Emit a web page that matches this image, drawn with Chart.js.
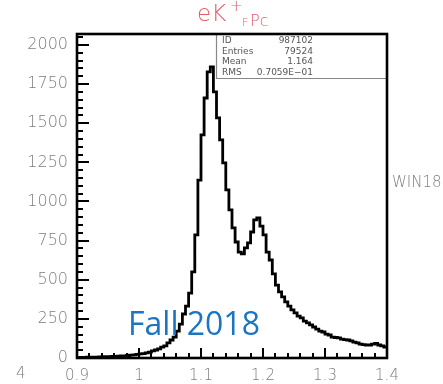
<!DOCTYPE html>
<html>
<head>
<meta charset="utf-8">
<script src="https://cdn.jsdelivr.net/npm/chart.js@4/dist/chart.umd.min.js"></script>
<style>
  html, body { margin:0; padding:0; background:#fff; }
  #wrap { position:relative; width:443px; height:384px; overflow:hidden; }
  canvas { position:absolute; left:0; top:0; }
  .t { position:absolute; line-height:1; white-space:nowrap; font-family:"DejaVu Sans", sans-serif; }
  .title { color:#e25b6b; font-weight:200; }
  .stat { position:absolute; font-size:9px; line-height:10.5px; color:#555; font-family:"DejaVu Sans", sans-serif; }
  .gray { color:#7d7d7d; font-weight:200; }
</style>
</head>
<body>
<div id="wrap">
  <canvas id="c" width="443" height="384"></canvas>
  <span class="t title" style="left:197px;top:2px;font-size:23px;">eK</span>
  <span class="t title" style="left:230px;top:-1px;font-size:15px;">+</span>
  <span class="t title" style="left:242px;top:17px;font-size:11px;">F</span>
  <span class="t title" style="left:250px;top:13px;font-size:16px;">Pc</span>
  <div class="stat" style="left:222px;top:35px;">ID<br>Entries<br>Mean<br>RMS</div>
  <div class="stat" style="left:253px;top:35px;width:60px;text-align:right;">987102<br>79524<br>1.164<br>0.7059E&minus;01</div>
  <span class="t gray" style="left:392px;top:175px;font-size:15px;">WIN18</span>
  <span class="t gray" style="left:16px;top:366px;font-size:15px;">4</span>
  <span class="t" style="left:128px;top:307px;font-size:32px;color:#1b75c2;font-family:'Open Sans',sans-serif;">Fall 2018</span>
</div>
<script>
// ---- data ----
const binEdges = [
  0.900,0.905,0.910,0.915,0.920,0.925,0.930,0.935,0.940,0.945,
  0.950,0.955,0.960,0.965,0.970,0.975,0.980,0.985,0.990,0.995,
  1.000,1.005,1.010,1.015,1.020,1.025,1.030,1.035,1.040,1.045,
  1.050,1.055,1.060,1.065,1.070,1.075,1.080,1.085,1.090,1.095,
  1.100,1.105,1.110,1.115,1.120,1.125,1.130,1.135,1.140,1.145,
  1.150,1.155,1.160,1.165,1.170,1.175,1.180,1.185,1.190,1.195,
  1.200,1.205,1.210,1.215,1.220,1.225,1.230,1.235,1.240,1.245,
  1.250,1.255,1.260,1.265,1.270,1.275,1.280,1.285,1.290,1.295,
  1.300,1.305,1.310,1.315,1.320,1.325,1.330,1.335,1.340,1.345,
  1.350,1.355,1.360,1.365,1.370,1.375,1.380,1.385,1.390,1.395,
  1.400
];
const counts = [
  3,4,4,5,5,6,6,7,8,8, 9,10,11,12,13,14,16,18,20,23,
  26,28,33,38,45,51,58,70,77,96,
  115,134,172,217,281,332,415,550,786,1137,
  1425,1661,1828,1860,1700,1534,1393,1246,1074,946,
  831,741,677,665,703,735,805,882,895,843,
  786,677,626,537,466,422,390,358,332,307,
  288,268,256,236,224,211,198,185,172,166,
  153,147,134,131,128,121,118,115,109,102,
  96,89,86,83,83,89,93,83,77,70
];
const xTicks = [0.9, 1.0, 1.1, 1.2, 1.3, 1.4];
const yTicks = [0, 250, 500, 750, 1000, 1250, 1500, 1750, 2000];

const pts = counts.map((c, i) => ({ x: binEdges[i], y: c }));
pts.push({ x: binEdges[binEdges.length - 1], y: counts[counts.length - 1] });

const framePlugin = {
  id: 'frame',
  afterDraw(chart) {
    const ctx = chart.ctx;
    const a = chart.chartArea;
    const xs = chart.scales.x, ys = chart.scales.y;
    ctx.save();
    ctx.fillStyle = '#000000';
    // y ticks (inward)
    for (let k = 0; k * 50 <= 2070; k++) {
      const py = Math.round(ys.getPixelForValue(k * 50));
      const len = (k % 5 === 0) ? 12 : 6;
      ctx.fillRect(a.left, py - 1, len, 2);
    }
    // x ticks (inward)
    for (let k = 0; k <= 25; k++) {
      const px = Math.round(xs.getPixelForValue(0.9 + k * 0.02));
      const len = (k % 5 === 0) ? 10 : 5;
      ctx.fillRect(px - 1, a.bottom - len, 2, len);
    }
    ctx.restore();
    ctx.save();
    // stats box lines
    const bx = Math.round(xs.getPixelForValue(1.1242)) + 0.5;
    const by = Math.round(ys.getPixelForValue(1790)) + 0.5;
    ctx.strokeStyle = '#888888';
    ctx.lineWidth = 1.2;
    ctx.beginPath(); ctx.moveTo(bx, a.top); ctx.lineTo(bx, by); ctx.lineTo(a.right, by); ctx.stroke();
    // frame
    ctx.strokeStyle = '#000000';
    ctx.lineWidth = 2.6;
    ctx.strokeRect(a.left, a.top, a.right - a.left, a.bottom - a.top);
    ctx.restore();
  }
};

new Chart(document.getElementById('c'), {
  type: 'line',
  data: {
    datasets: [{
      data: pts,
      stepped: true,
      borderColor: '#000',
      borderWidth: 2.8,
      pointRadius: 0,
      fill: false,
      tension: 0
    }]
  },
  options: {
    responsive: false,
    animation: false,
    events: [],
    layout: { padding: { left: 0, right: 56, top: 34, bottom: 0 } },
    plugins: { legend: { display: false }, tooltip: { enabled: false }, title: { display: false } },
    scales: {
      x: {
        type: 'linear', min: 0.9, max: 1.4,
        grid: { display: false, drawTicks: false },
        border: { display: false },
        afterBuildTicks: s => { s.ticks = xTicks.map(v => ({ value: v })); },
        afterFit: s => { s.height = 26; },
        ticks: {
          padding: 9,
          color: '#7d7d7d',
          font: { family: 'DejaVu Sans', size: 15, weight: 200 },
          maxRotation: 0,
          callback: v => String(Number(Number(v).toFixed(1)))
        }
      },
      y: {
        type: 'linear', min: 0, max: 2070,
        grid: { display: false, drawTicks: false },
        border: { display: false },
        afterBuildTicks: s => { s.ticks = yTicks.map(v => ({ value: v })); },
        afterFit: s => { s.width = 77; },
        ticks: {
          padding: 9,
          color: '#7d7d7d',
          font: { family: 'DejaVu Sans', size: 16, weight: 200 },
          callback: v => String(v)
        }
      }
    }
  },
  plugins: [framePlugin]
});
</script>
</body>
</html>
